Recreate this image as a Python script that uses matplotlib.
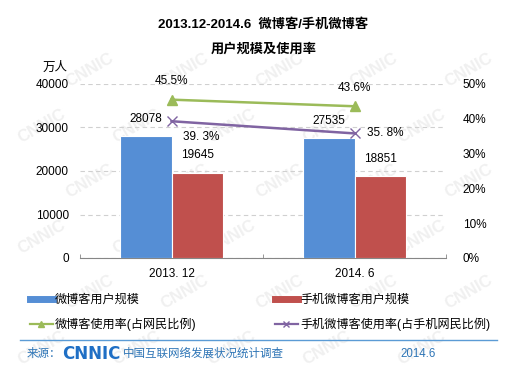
import numpy as np
import matplotlib.pyplot as plt
from matplotlib.lines import Line2D

plt.rcParams['font.family'] = ['Liberation Sans', 'Noto Sans CJK SC', 'DejaVu Sans']

# === Данни ===
categories = ['2013. 12', '2014. 6']
weibo_users = [28078, 27535]
mobile_weibo_users = [19645, 18851]
weibo_rate = [45.5, 43.6]
mobile_weibo_rate = [39.3, 35.8]
weibo_rate_labels = ['45.5%', '43.6%']
mobile_rate_labels = ['39. 3%', '35. 8%']

BLUE = '#558ED5'
RED = '#C0504D'
GREEN = '#9BBB59'
PURPLE = '#8064A2'

fig = plt.figure(figsize=(5.27, 3.70), dpi=100)

# === Воден знак ===
for i, yy in enumerate(np.arange(0.06, 0.96, 0.15)):
    off = 0.09 if i % 2 else 0.0
    for xx in np.arange(0.08 + off, 0.93, 0.18):
        fig.text(xx, yy, 'CNNIC', fontsize=12, color='#F0F0F0', rotation=30,
                 fontweight='bold', ha='center', va='center', zorder=0)

ax = fig.add_axes([80 / 527, 1 - 258 / 370, 366 / 527, 174 / 370])
ax.set_facecolor('none')
ax2 = ax.twinx()
ax.set_zorder(1)
ax2.set_zorder(2)

x = np.arange(len(categories))
w = 0.28
ax.bar(x - w / 2, weibo_users, w, color=BLUE, edgecolor='white', linewidth=0.8, zorder=3)
ax.bar(x + w / 2, mobile_weibo_users, w, color=RED, edgecolor='white', linewidth=0.8, zorder=3)

for xi, v in zip(x - w / 2, weibo_users):
    ax.annotate(str(v), (xi, v), xytext=(0, 8), textcoords='offset points',
                ha='center', va='bottom', fontsize=8.5)
for xi, v in zip(x + w / 2, mobile_weibo_users):
    ax.annotate(str(v), (xi, v), xytext=(0, 8), textcoords='offset points',
                ha='center', va='bottom', fontsize=8.5)

ax.set_ylim(0, 40000)
ax.set_yticks([0, 10000, 20000, 30000, 40000])
ax.set_xlim(-0.5, 1.5)
ax.set_xticks(x)
ax.set_xticklabels(categories, fontsize=8.5)
ax.set_xticks([-0.5, 0.5, 1.5], minor=True)
ax.tick_params(axis='x', which='major', length=0, pad=7)
ax.tick_params(axis='x', which='minor', length=3, color='#868686', direction='in')
ax.tick_params(axis='y', length=0, labelsize=8.5, pad=8)
ax.yaxis.grid(True, linestyle=(0, (4, 3)), color='#D0D0D0', linewidth=0.8)
ax.set_axisbelow(True)
for s in ['top', 'left', 'right']:
    ax.spines[s].set_visible(False)
ax.spines['bottom'].set_color('#868686')

ax2.plot(x, weibo_rate, color=GREEN, lw=1.8, marker='^', markersize=7, zorder=4)
ax2.plot(x, mobile_weibo_rate, color=PURPLE, lw=1.8, marker='x', markersize=7,
         markeredgewidth=1.0, zorder=4)
for xi, v, t in zip(x, weibo_rate, weibo_rate_labels):
    ax2.annotate(t, (xi, v), xytext=(0, 9), textcoords='offset points',
                 ha='center', va='bottom', fontsize=8.5)
ax2.annotate(mobile_rate_labels[0], (x[0], mobile_weibo_rate[0]), xytext=(8, -11),
             textcoords='offset points', ha='left', va='center', fontsize=8.5)
ax2.annotate(mobile_rate_labels[1], (x[1], mobile_weibo_rate[1]), xytext=(9, 0),
             textcoords='offset points', ha='left', va='center', fontsize=8.5)
ax2.set_ylim(0, 50)
ax2.set_yticks([0, 10, 20, 30, 40, 50])
ax2.set_yticklabels([f'{t}%' for t in range(0, 60, 10)])
ax2.tick_params(axis='y', length=0, labelsize=8.5, pad=12)
for s in ['top', 'left', 'right', 'bottom']:
    ax2.spines[s].set_visible(False)

# === Заглавие и единици ===
fig.text(0.5, 1 - 25 / 370, '2013.12-2014.6  微博客/手机微博客', ha='center', va='center',
         fontsize=9.5, fontweight='bold')
fig.text(0.5, 1 - 49 / 370, '用户规模及使用率', ha='center', va='center',
         fontsize=9.5, fontweight='bold')
fig.text(43 / 527, 1 - 68 / 370, '万人', ha='left', va='center', fontsize=9)

# === Легенда ===
h_left = [Line2D([], [], color=BLUE, lw=5),
          Line2D([], [], color=GREEN, lw=1.6, marker='^', markersize=5)]
h_right = [Line2D([], [], color=RED, lw=5),
           Line2D([], [], color=PURPLE, lw=1.6, marker='x', markersize=5)]
fig.legend(h_left, ['微博客用户规模', '微博客使用率(占网民比例)'],
           loc='upper left', bbox_to_anchor=(19 / 527, 1 - 283 / 370), frameon=False,
           fontsize=8.7, handlelength=1.9, handletextpad=0.2, labelspacing=1.0)
fig.legend(h_right, ['手机微博客用户规模', '手机微博客使用率(占手机网民比例)'],
           loc='upper left', bbox_to_anchor=(264 / 527, 1 - 283 / 370), frameon=False,
           fontsize=8.7, handlelength=1.9, handletextpad=0.2, labelspacing=1.0)

# === Долен колонтитул ===
fig.add_artist(Line2D([20 / 527, 497 / 527], [1 - 340 / 370, 1 - 340 / 370],
                      color='#5B9BD5', lw=1))
fig.text(27 / 527, 1 - 354 / 370, '来源：', color='#2E75B6', fontsize=8.3,
         ha='left', va='center')
fig.text(62 / 527, 1 - 354 / 370, 'CNNIC', color='#1F6FC5', fontsize=12,
         fontweight='heavy', ha='left', va='center', family='DejaVu Sans')
fig.text(123 / 527, 1 - 354 / 370, '中国互联网络发展状况统计调查', color='#2E75B6',
         fontsize=8.3, ha='left', va='center')
fig.text(400 / 527, 1 - 354 / 370, '2014.6', color='#2E75B6', fontsize=8.3,
         ha='left', va='center')

fig.savefig('out.png', dpi=100)
